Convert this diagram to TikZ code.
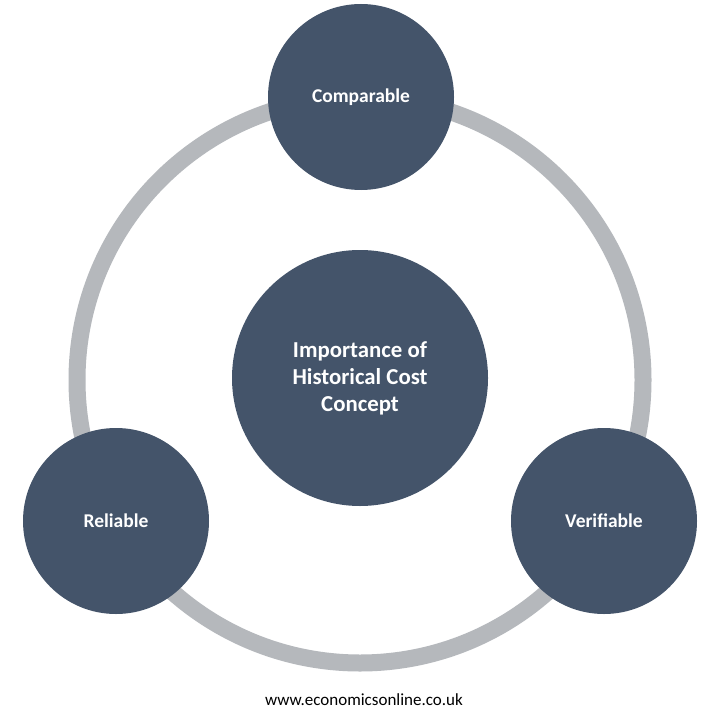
\documentclass[tikz,border=0pt]{standalone}
\usepackage{fontspec}
\setmainfont{Carlito}
\begin{document}
\begin{tikzpicture}[x=1pt,y=-1pt,
  bub/.style={circle,fill=bubcol,text=white,font=\bfseries,align=center,inner sep=0pt},
  small/.style={bub,minimum size=186pt,font=\bfseries\fontsize{19.5}{23}\selectfont}]
\definecolor{bubcol}{HTML}{44546A}
\definecolor{ringcol}{HTML}{B5B8BC}
\useasboundingbox[fill=white] (0,0) rectangle (720,722);
\coordinate (c) at (360,380);
\draw[ringcol,line width=17pt] (c) circle[radius=283];
\node[small] (top) at (361,97) {Comparable};
\node[small] (left) at (116,521) {Reliable};
\node[small] (right) at (604,521) {Verifiable};
\node[bub,minimum size=256pt,font=\bfseries\fontsize{22.8}{27}\selectfont] (mid) at (360,378) {Importance of\\Historical Cost\\Concept};
\node[font=\fontsize{17}{19}\selectfont] (url) at (364,700) {www.economicsonline.co.uk};
\end{tikzpicture}
\end{document}
